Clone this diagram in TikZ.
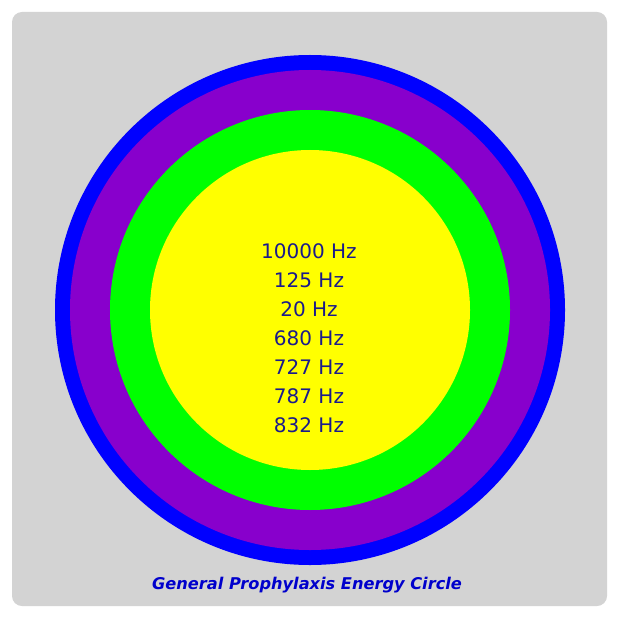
\documentclass[tikz,border=0pt]{standalone}
\usepackage{fontspec}
\setmainfont{DejaVu Sans}
\definecolor{bggray}{HTML}{D3D3D3}
\definecolor{ringblue}{HTML}{0000FF}
\definecolor{ringpurple}{HTML}{8800CC}
\definecolor{ringgreen}{HTML}{00FF00}
\definecolor{ringyellow}{HTML}{FFFF00}
\definecolor{txtnavy}{HTML}{1A1A8C}
\definecolor{captblue}{HTML}{0000CC}
\tikzset{
  freq/.style={text=txtnavy, font=\fontsize{20}{23}\selectfont, inner sep=0pt, anchor=center},
  caption/.style={text=captblue, font=\fontsize{16.2}{19}\selectfont\bfseries\itshape, inner sep=0pt},
}
\begin{document}
\begin{tikzpicture}[x=1pt,y=-1pt]
\useasboundingbox (0,0) rectangle (620,620);
\fill[white] (0,0) rectangle (620,620);
\fill[bggray, rounded corners=10pt] (12,12) rectangle (607,606);
\fill[ringblue] (310,310) circle[radius=255];
\fill[ringpurple] (310,310) circle[radius=240];
\fill[ringgreen] (310,310) circle[radius=200];
\fill[ringyellow] (310,310) circle[radius=160];
\node[freq] (f1) at (309,251) {10000 Hz};
\node[freq] (f2) at (309,280) {125 Hz};
\node[freq] (f3) at (309,309) {20 Hz};
\node[freq] (f4) at (309,338) {680 Hz};
\node[freq] (f5) at (309,367) {727 Hz};
\node[freq] (f6) at (309,396) {787 Hz};
\node[freq] (f7) at (309,425) {832 Hz};
\node[caption] (cap) at (307,585) {General Prophylaxis Energy Circle};
\end{tikzpicture}
\end{document}
